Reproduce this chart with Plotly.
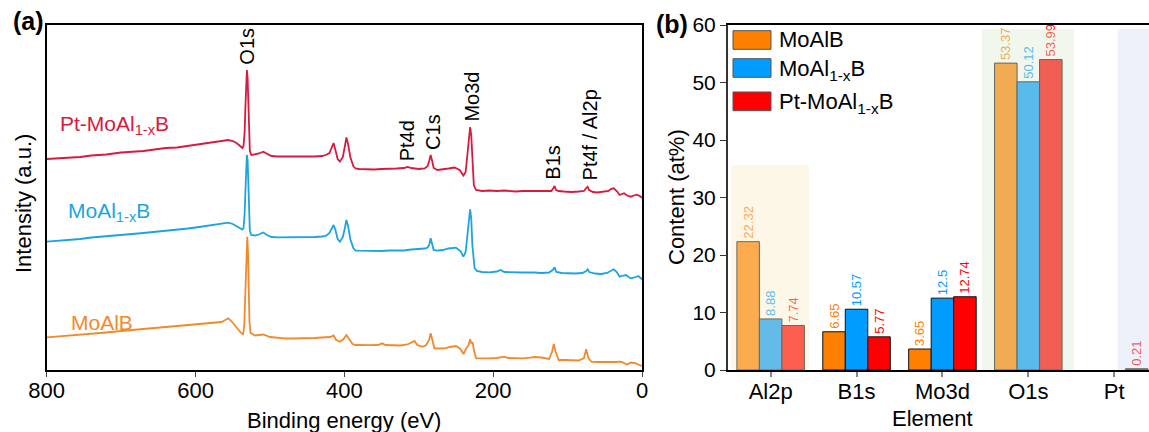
import plotly.graph_objects as go

# ---------------- XPS survey spectra: (binding energy / eV, intensity / a.u.) ----------------
pt_moal1xb_spectrum = [
    (800, 211), (785, 211.5), (770, 212.5), (755, 213), (740, 214.5), (720, 215.5), (700, 217.5),
    (685, 218), (670, 219), (655, 220.5), (640, 222), (625, 222.5), (610, 224), (595, 225.5),
    (580, 227), (570, 228), (560, 229.5), (556, 230), (550, 229), (545, 227), (540, 224), (537, 222),
    (535.5, 224), (534, 238), (533, 262), (532, 290), (531, 300), (530, 292), (529, 260), (528, 232),
    (527, 219), (525, 215), (520, 215.5), (515, 216.5), (509, 218.3), (504, 216), (498, 214),
    (490, 213.5), (480, 213.5), (470, 213), (460, 213), (450, 213.5), (440, 213.5), (430, 214),
    (425, 215), (420, 217), (417, 222), (414.5, 227), (412, 220), (409, 211), (406, 208.5),
    (402, 213), (399, 225), (397.3, 232.5), (395, 226), (392, 213), (388, 204), (385, 201.5),
    (380, 201), (370, 200.5), (360, 200.5), (350, 201), (340, 201), (330, 201.5), (320, 202),
    (315, 203), (310, 202), (300, 201), (292, 201.5), (288, 204), (286, 209), (284, 215), (282, 209),
    (280, 202), (275, 200), (268, 200.5), (260, 201.5), (252, 202.5), (245, 200), (240, 194.5),
    (237, 198), (234, 220), (232, 242), (231, 243), (229.5, 235), (228, 210), (226, 185), (223, 180),
    (215, 179), (205, 179.5), (195, 179), (185, 179.5), (170, 178.5), (160, 179), (150, 179),
    (140, 178.5), (130, 178.5), (122, 179), (119, 182), (117.5, 184), (115.5, 180), (112, 179),
    (105, 178.5), (95, 178), (85, 178.5), (78, 179), (75, 182), (73, 183.3), (71, 180), (66, 178),
    (60, 177.5), (52, 178), (45, 179), (42, 181), (38, 181.7), (34, 179), (30, 175), (27, 176),
    (24, 176.7), (20, 174.5), (15, 173.3), (11, 174.5), (7, 175.3), (3, 174), (0, 172.3),
]

moal1xb_spectrum = [
    (800, 128.3), (785, 129), (770, 130), (755, 131), (740, 132.5), (720, 133.5), (700, 135),
    (685, 136), (670, 137), (655, 138), (640, 139), (625, 140), (610, 141.5), (595, 143),
    (580, 144.5), (570, 145.5), (560, 147), (556, 147.3), (550, 146), (545, 144), (540, 141.5),
    (537, 140.5), (535.5, 142), (534, 156), (533, 178), (532, 205), (531, 215), (530, 210),
    (529, 183), (528, 152), (527, 139), (525, 135), (520, 134.5), (515, 135.5), (509, 137.5),
    (504, 135), (498, 133), (490, 132.7), (480, 132.7), (470, 132.5), (460, 132.5), (450, 132.7),
    (440, 133), (430, 133.5), (425, 134), (420, 137), (417, 141), (414.5, 145), (412, 140),
    (409, 131), (406, 128.3), (402, 133), (399, 143), (397.3, 150), (395, 144), (392, 131),
    (388, 122), (385, 119.5), (380, 119.3), (370, 119), (360, 119), (350, 119), (340, 119.5),
    (330, 119.5), (320, 119.5), (310, 120.5), (300, 121), (292, 121.5), (288, 122.5), (286, 125),
    (284, 131.7), (282, 125), (280, 120), (276, 119.3), (268, 120), (260, 121.5), (256, 122),
    (250, 122.3), (244, 119), (240, 113.3), (237, 118), (234, 140), (232, 158), (231, 160.7),
    (229.5, 152), (228, 125), (225, 102), (222, 99), (215, 98), (205, 97.7), (195, 98.5),
    (190, 100), (185, 98), (175, 97.5), (160, 97.5), (145, 97.5), (135, 97), (125, 97.5),
    (120, 100), (117.5, 102.7), (115, 98), (108, 97), (100, 96.7), (90, 96.5), (80, 97), (75, 99),
    (73, 100.7), (71, 98), (63, 96.5), (55, 96), (47, 97), (42, 99.5), (38, 100.7), (34, 98),
    (30, 93.3), (25, 94.5), (21.5, 95), (18, 93), (14.8, 91.7), (8, 93), (5, 94), (2, 92), (0, 90.7),
]

moalb_spectrum = [
    (800, 32.7), (785, 33.5), (770, 34.5), (755, 35.5), (740, 36.5), (720, 37.5), (700, 39),
    (685, 40), (670, 41), (655, 41.5), (640, 42.5), (625, 43.5), (610, 44.5), (595, 45.5),
    (580, 46.5), (570, 47.5), (565, 48), (560, 50), (556, 51.7), (552, 49), (547, 45), (542, 40),
    (538, 36.5), (536, 36), (534.5, 45), (533.5, 70), (532.5, 105), (531.5, 128), (530.5, 133.3),
    (529.5, 118), (528.5, 80), (527.5, 48), (526, 37), (520, 34.5), (515, 35), (509, 35.5),
    (500, 33), (490, 32), (480, 31.7), (470, 31.5), (460, 31.5), (450, 32), (440, 32), (430, 32.5),
    (425, 32.5), (419, 33), (414.5, 34.5), (411, 30), (406, 28.3), (401, 31), (397.3, 35),
    (394, 31), (389, 26), (385, 25), (375, 24.7), (365, 24.8), (355, 25), (349, 26.7), (345, 25),
    (335, 24.5), (325, 24.5), (315, 25.5), (308, 28), (305.7, 29), (302, 25), (295, 23.3),
    (290, 25), (286, 30), (284, 36.7), (282, 30), (279, 21.7), (272, 21.5), (265, 21.7), (258, 23),
    (250, 24), (244, 21), (240, 16), (236, 22), (233, 25), (231, 30.7), (229.5, 27), (227.5, 27.3),
    (226, 20), (223, 11.7), (215, 11.5), (205, 11.7), (195, 12), (190, 12.5), (185, 13.3),
    (180, 12), (170, 11.5), (160, 11.7), (150, 12.3), (145, 13), (135, 12.5), (125, 11), (121, 18),
    (118.5, 26), (116, 18), (112, 10), (103, 10), (95, 10), (85, 9.5), (78, 12), (75, 20.7),
    (72, 12), (68, 8.3), (60, 8), (50, 8), (40, 7.3), (35, 8), (28, 8.3), (24, 7), (20, 5.5),
    (15, 7.5), (10, 7), (5, 5.5), (0, 4),
]

# peak assignments: (label, binding energy of label centre, intensity at label foot)
peak_labels = [
    ("O1s", 532, 303),
    ("Pt4d", 316, 207),
    ("C1s", 281, 218),
    ("Mo3d", 229, 246),
    ("B1s", 120, 188),
    ("Pt4f / Al2p", 70, 188),
]

# ---------------- surface composition (at%) ----------------
elements = ["Al2p", "B1s", "Mo3d", "O1s", "Pt"]
content_moalb = [22.32, 6.65, 3.65, 53.37, None]
content_moal1xb = [8.88, 10.57, 12.5, 50.12, None]
content_pt_moal1xb = [7.74, 5.77, 12.74, 53.99, 0.21]

FONT = "Liberation Sans, Arial, sans-serif"
W, H = 1149, 432

RED_LINE = "#d81a3e"
BLUE_LINE = "#1ca4e2"
ORANGE_LINE = "#f08a2c"
ORANGE = "#ff8000"
BLUE = "#009cff"
RED = "#ff0000"


def px(x):
    return x / W


def py(y):
    return 1 - y / H


fig = go.Figure()

# spectra
for spec, color in [(moalb_spectrum, ORANGE_LINE), (moal1xb_spectrum, BLUE_LINE),
                    (pt_moal1xb_spectrum, RED_LINE)]:
    be, inten = zip(*spec)
    fig.add_trace(go.Scatter(x=list(be), y=list(inten), mode="lines",
                             line=dict(color=color, width=1.8),
                             xaxis="x", yaxis="y", showlegend=False, hoverinfo="skip"))

# composition bars
for vals, color in [(content_moalb, ORANGE), (content_moal1xb, BLUE), (content_pt_moal1xb, RED)]:
    fig.add_trace(go.Bar(
        x=elements, y=vals, xaxis="x2", yaxis="y2", showlegend=False,
        marker=dict(color=color, line=dict(color="#111111", width=1)),
        text=["" if v is None else str(v) for v in vals],
        textposition="outside", textangle=-90, cliponaxis=False, constraintext="none",
        outsidetextfont=dict(family=FONT, size=13, color=color),
        hoverinfo="skip",
    ))

shapes = [
    # tinted bands over selected element groups
    dict(type="rect", xref="x2", yref="y2", x0=-0.46, x1=0.445, y0=0, y1=35.6,
         fillcolor="rgba(250,235,198,0.4)", line=dict(width=0), layer="above"),
    dict(type="rect", xref="x2", yref="y2", x0=2.46, x1=3.53, y0=0, y1=59.3,
         fillcolor="rgba(220,235,208,0.4)", line=dict(width=0), layer="above"),
    dict(type="rect", xref="x2", yref="y2", x0=4.04, x1=4.8, y0=0, y1=59.3,
         fillcolor="rgba(210,220,240,0.4)", line=dict(width=0), layer="above"),
]

# legend swatches for the bar chart
legend_rows = [("MoAlB", ORANGE, 30.7, 49.3, 40),
               ("MoAl<sub>1-x</sub>B", BLUE, 58.7, 77.3, 70),
               ("Pt-MoAl<sub>1-x</sub>B", RED, 92, 110.7, 103)]
annotations = []
for name, color, top, bot, ty in legend_rows:
    shapes.append(dict(type="rect", xref="paper", yref="paper",
                       x0=px(733), x1=px(771), y0=py(bot), y1=py(top),
                       fillcolor=color, line=dict(color="#555555", width=1)))
    annotations.append(dict(xref="paper", yref="paper", x=px(777), y=py(ty), text=name,
                            xanchor="left", yanchor="middle", showarrow=False,
                            font=dict(family=FONT, size=22, color="black")))

# peak labels
for text, be, foot in peak_labels:
    annotations.append(dict(xref="x", yref="y", x=be, y=foot, text=text, textangle=-90,
                            xanchor="center", yanchor="bottom", showarrow=False,
                            font=dict(family=FONT, size=20, color="black")))

# sample labels beside the spectra
for text, be, inten, color in [("Pt-MoAl<sub>1-x</sub>B", 785, 245, RED_LINE),
                               ("MoAl<sub>1-x</sub>B", 774, 158, BLUE_LINE),
                               ("MoAlB", 770, 48, ORANGE_LINE)]:
    annotations.append(dict(xref="x", yref="y", x=be, y=inten, text=text,
                            xanchor="left", yanchor="middle", showarrow=False,
                            font=dict(family=FONT, size=21, color=color)))


def centred(x, y, text, size=22, angle=0):
    return dict(xref="paper", yref="paper", x=px(x), y=py(y), text=text, textangle=angle,
                xanchor="center", yanchor="middle", showarrow=False,
                font=dict(family=FONT, size=size, color="black"))


# panel tags and axis titles
annotations += [
    centred(28, 21, "<b>(a)</b>", 25),
    centred(672, 24, "<b>(b)</b>", 25),
    centred(23, 204, "Intensity (a.u.)", 22, -90),
    centred(344, 420, "Binding energy (eV)", 22),
    centred(676, 197, "Content (at%)", 22, -90),
    centred(932, 418, "Element", 22),
]

fig.update_layout(
    width=W, height=H, margin=dict(l=0, r=0, t=0, b=0, autoexpand=False),
    paper_bgcolor="white", plot_bgcolor="white",
    font=dict(family=FONT, size=20, color="black"),
    barmode="group", bargap=0.214, bargroupgap=0,
    xaxis=dict(domain=[px(46.7), px(642)], range=[800, 0], showgrid=False, zeroline=False,
               showline=True, linecolor="black", linewidth=1.5, mirror=True,
               ticks="outside", ticklen=5, tickcolor="#444", tickwidth=1.2, automargin=False,
               tickvals=[800, 600, 400, 200, 0], tickfont=dict(size=22), ticklabelstandoff=-5),
    yaxis=dict(domain=[py(370), py(25)], range=[0, 345], showgrid=False, zeroline=False,
               showline=True, linecolor="black", linewidth=1.5, mirror=True, automargin=False,
               showticklabels=False, ticks=""),
    xaxis2=dict(domain=[px(727.7), 1.0], range=[-0.5, 4.405], type="category",
                showgrid=False, zeroline=False, showline=True, linecolor="black",
                linewidth=1.5, mirror=True, ticks="outside", ticklen=5, tickcolor="#888",
                tickwidth=1.5, tickfont=dict(size=22), ticklabelstandoff=-4, automargin=False),
    yaxis2=dict(domain=[py(370), py(25)], range=[0, 60], dtick=10, anchor="x2",
                showgrid=False, zeroline=False, showline=True, linecolor="#333",
                linewidth=1.5, ticks="outside", ticklen=6, tickcolor="#333", automargin=False,
                tickfont=dict(size=21)),
    shapes=shapes, annotations=annotations,
)

fig.write_html("out.html")
